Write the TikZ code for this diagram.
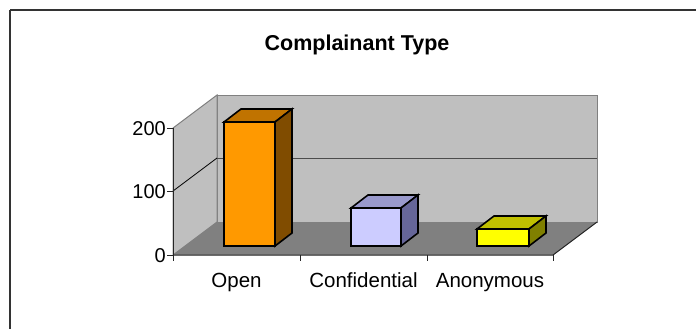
\documentclass[tikz,border=0pt]{standalone}
\usepackage{fontspec}
\setmainfont{Liberation Sans}
\usetikzlibrary{calc}
\begin{document}
\begin{tikzpicture}[x=1pt,y=-1pt,
  frameline/.style={draw=black!80,line width=2pt},
  wallfill/.style={fill=black!25,draw=black!50,line width=1pt},
  floorfill/.style={fill=black!50},
  gridline/.style={draw=black!70,line width=0.9pt},
  axisline/.style={draw=black!85,line width=1pt},
  barline/.style={draw=black,line width=1.6pt,line join=miter},
  axlabel/.style={font=\fontsize{20}{20}\selectfont,inner sep=0pt},
  catlabel/.style={font=\fontsize{20.5}{21}\selectfont,inner sep=0pt,anchor=base},
  titlelabel/.style={font=\bfseries\fontsize{21.5}{22}\selectfont,inner sep=0pt,anchor=base}
]
\useasboundingbox (0,0) rectangle (696,329);
\fill[white] (0,0) rectangle (696,329);

% chart frame (top and left edges)
\draw[frameline] (10,10) -- (697,10);
\draw[frameline] (10,10) -- (10,330);

% walls and floor of the 3-D plot area
\path[wallfill] (217,95) rectangle (597,222);
\path[wallfill] (173,128) -- (217,95) -- (217,222) -- (173,255) -- cycle;
\path[floorfill] (173,255) -- (217,222) -- (597,222) -- (553,255) -- cycle;

% gridline at 100
\draw[black,line width=0.8pt] (173,191) -- (217,158);
\draw[gridline] (217,158) -- (597,158);

% axes and ticks
\draw[axisline] (173,128) -- (173,261);
\draw[axisline] (173,255) -- (553,255) -- (597,222);
\foreach \yy in {128,191,255} \draw[axisline] (167,\yy) -- (173,\yy);
\foreach \xx in {300,427,553} \draw[axisline] (\xx,255) -- (\xx,261);

% bars: front face, top face, side face
\newcommand{\barbox}[6]{% x-left, x-right, top y, front colour, top colour, side colour
  \filldraw[barline,fill=#4] (#1,246) rectangle (#2,#3);
  \filldraw[barline,fill=#5] (#1,#3) -- ++(17,-13) -- ($(#2,#3)+(17,-13)$) -- (#2,#3) -- cycle;
  \filldraw[barline,fill=#6] (#2,#3) -- ++(17,-13) -- ($(#2,246)+(17,-13)$) -- (#2,246) -- cycle;
}
\definecolor{openfront}{HTML}{FF9900}
\definecolor{opentop}{HTML}{C07300}
\definecolor{openside}{HTML}{804C00}
\definecolor{conffront}{HTML}{CCCCFF}
\definecolor{conftop}{HTML}{9999CC}
\definecolor{confside}{HTML}{666699}
\definecolor{anonfront}{HTML}{FFFF00}
\definecolor{anontop}{HTML}{C0C000}
\definecolor{anonside}{HTML}{808000}
\barbox{224}{275}{122}{openfront}{opentop}{openside}
\barbox{351}{401}{208}{conffront}{conftop}{confside}
\barbox{477}{529}{229}{anonfront}{anontop}{anonside}

% labels
\node[titlelabel] (title) at (357,51) {Complainant Type};
\node[axlabel,anchor=east] (y200) at (166,129) {200};
\node[axlabel,anchor=east] (y100) at (166,192) {100};
\node[axlabel,anchor=east] (y0) at (166,256) {0};
\node[catlabel] (cOpen) at (236.5,287) {Open};
\node[catlabel] (cConf) at (363.5,287) {Confidential};
\node[catlabel] (cAnon) at (490,287) {Anonymous};
\end{tikzpicture}
\end{document}
